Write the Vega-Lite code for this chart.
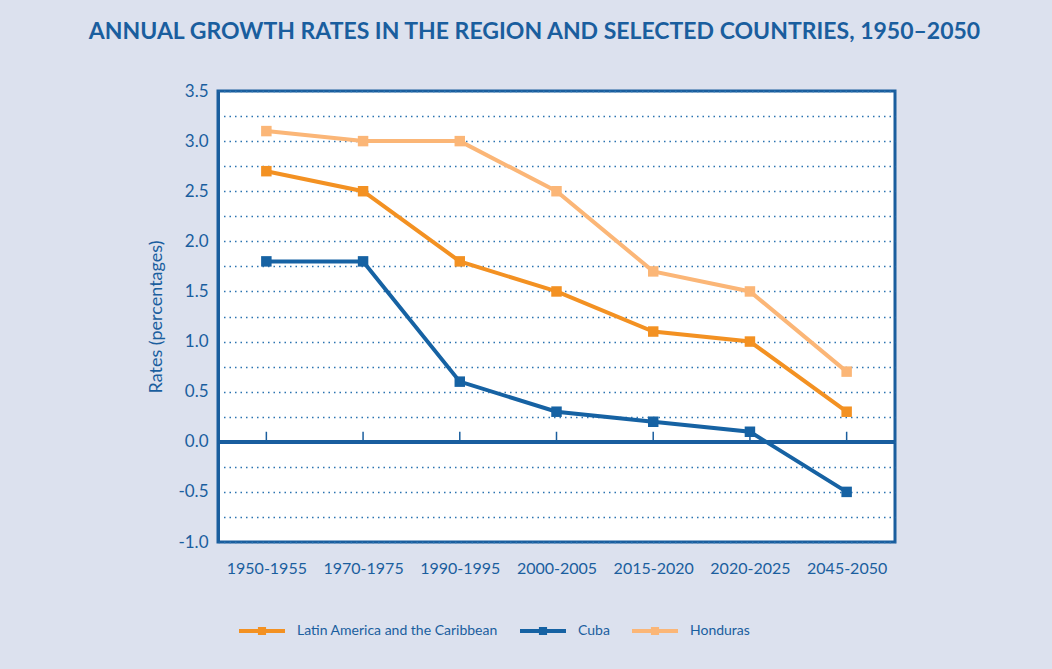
{
  "$schema": "https://vega.github.io/schema/vega-lite/v6.json",
  "autosize": "none",
  "width": 677,
  "height": 451,
  "padding": {"left": 218, "top": 91, "right": 157, "bottom": 127},
  "background": "#dce1ee",
  "title": {
    "text": "ANNUAL GROWTH RATES IN THE REGION AND SELECTED COUNTRIES, 1950–2050",
    "font": "Lato",
    "fontSize": 23,
    "fontWeight": "bold",
    "color": "#1a5e9e",
    "anchor": "middle",
    "dx": -22,
    "offset": 38
  },
  "config": {
    "view": {"stroke": "#1a5e9e", "strokeWidth": 3, "fill": "white"},
    "font": "Lato"
  },
  "data": {
    "values": [
      {"period": "1950-1955", "series": "Latin America and the Caribbean", "rate": 2.7},
      {"period": "1970-1975", "series": "Latin America and the Caribbean", "rate": 2.5},
      {"period": "1990-1995", "series": "Latin America and the Caribbean", "rate": 1.8},
      {"period": "2000-2005", "series": "Latin America and the Caribbean", "rate": 1.5},
      {"period": "2015-2020", "series": "Latin America and the Caribbean", "rate": 1.1},
      {"period": "2020-2025", "series": "Latin America and the Caribbean", "rate": 1.0},
      {"period": "2045-2050", "series": "Latin America and the Caribbean", "rate": 0.3},
      {"period": "1950-1955", "series": "Cuba", "rate": 1.8},
      {"period": "1970-1975", "series": "Cuba", "rate": 1.8},
      {"period": "1990-1995", "series": "Cuba", "rate": 0.6},
      {"period": "2000-2005", "series": "Cuba", "rate": 0.3},
      {"period": "2015-2020", "series": "Cuba", "rate": 0.2},
      {"period": "2020-2025", "series": "Cuba", "rate": 0.1},
      {"period": "2045-2050", "series": "Cuba", "rate": -0.5},
      {"period": "1950-1955", "series": "Honduras", "rate": 3.1},
      {"period": "1970-1975", "series": "Honduras", "rate": 3.0},
      {"period": "1990-1995", "series": "Honduras", "rate": 3.0},
      {"period": "2000-2005", "series": "Honduras", "rate": 2.5},
      {"period": "2015-2020", "series": "Honduras", "rate": 1.7},
      {"period": "2020-2025", "series": "Honduras", "rate": 1.5},
      {"period": "2045-2050", "series": "Honduras", "rate": 0.7}
    ]
  },
  "encoding": {
    "x": {
      "field": "period",
      "type": "ordinal",
      "scale": {"type": "point", "padding": 0.5},
      "axis": {
        "title": null,
        "labelAngle": 0,
        "labelFontSize": 16,
        "labelColor": "#1a5e9e",
        "labelPadding": 18,
        "ticks": false,
        "domain": false,
        "grid": false
      }
    }
  },
  "layer": [
    {
      "mark": {"type": "rule", "color": "#1a5e9e", "strokeWidth": 3},
      "encoding": {
        "x": null,
        "y": {
          "datum": 0,
          "type": "quantitative",
          "scale": {"domain": [-1, 3.5], "nice": false, "zero": false},
          "axis": {
            "title": "Rates (percentages)",
            "titleFontSize": 18,
            "titleFontWeight": "normal",
            "titleColor": "#1a5e9e",
            "titlePadding": 12,
            "values": [-1, -0.75, -0.5, -0.25, 0, 0.25, 0.5, 0.75, 1, 1.25, 1.5, 1.75, 2, 2.25, 2.5, 2.75, 3, 3.25, 3.5],
            "labelExpr": "abs(datum.value * 2 - round(datum.value * 2)) < 0.001 ? replace(format(datum.value, '.1f'), '−', '-') : ''",
            "labelFontSize": 17,
            "labelColor": "#1a5e9e",
            "labelPadding": 10,
            "labelOverlap": false,
            "ticks": false,
            "domainColor": "#1a5e9e",
            "domainWidth": 3,
            "grid": true,
            "gridColor": "#2b73b0",
            "gridDash": [1.5, 4],
            "gridWidth": 1.3
          }
        }
      }
    },
    {
      "transform": [{"filter": "datum.series === 'Cuba'"}],
      "mark": {"type": "rule", "color": "#1a5e9e", "strokeWidth": 1.5},
      "encoding": {
        "y": {
          "datum": 0,
          "type": "quantitative",
          "scale": {"domain": [-1, 3.5], "nice": false, "zero": false},
          "axis": {
            "title": "Rates (percentages)",
            "titleFontSize": 18,
            "titleFontWeight": "normal",
            "titleColor": "#1a5e9e",
            "titlePadding": 12,
            "values": [-1, -0.75, -0.5, -0.25, 0, 0.25, 0.5, 0.75, 1, 1.25, 1.5, 1.75, 2, 2.25, 2.5, 2.75, 3, 3.25, 3.5],
            "labelExpr": "abs(datum.value * 2 - round(datum.value * 2)) < 0.001 ? replace(format(datum.value, '.1f'), '−', '-') : ''",
            "labelFontSize": 17,
            "labelColor": "#1a5e9e",
            "labelPadding": 10,
            "labelOverlap": false,
            "ticks": false,
            "domainColor": "#1a5e9e",
            "domainWidth": 3,
            "grid": true,
            "gridColor": "#2b73b0",
            "gridDash": [1.5, 4],
            "gridWidth": 1.3
          }
        },
        "y2": {"datum": 0.1}
      }
    },
    {
      "mark": {"type": "line", "strokeWidth": 4, "point": {"shape": "square", "size": 110, "filled": true, "opacity": 1}},
      "encoding": {
        "y": {
          "field": "rate",
          "type": "quantitative",
          "scale": {"domain": [-1, 3.5], "nice": false, "zero": false},
          "axis": {
            "title": "Rates (percentages)",
            "titleFontSize": 18,
            "titleFontWeight": "normal",
            "titleColor": "#1a5e9e",
            "titlePadding": 12,
            "values": [-1, -0.75, -0.5, -0.25, 0, 0.25, 0.5, 0.75, 1, 1.25, 1.5, 1.75, 2, 2.25, 2.5, 2.75, 3, 3.25, 3.5],
            "labelExpr": "abs(datum.value * 2 - round(datum.value * 2)) < 0.001 ? replace(format(datum.value, '.1f'), '−', '-') : ''",
            "labelFontSize": 17,
            "labelColor": "#1a5e9e",
            "labelPadding": 10,
            "labelOverlap": false,
            "ticks": false,
            "domainColor": "#1a5e9e",
            "domainWidth": 3,
            "grid": true,
            "gridColor": "#2b73b0",
            "gridDash": [1.5, 4],
            "gridWidth": 1.3
          }
        },
        "color": {
          "field": "series",
          "type": "nominal",
          "scale": {
            "domain": ["Latin America and the Caribbean", "Cuba", "Honduras"],
            "range": ["#f39122", "#1662a3", "#fbb677"]
          },
          "legend": {
            "title": null,
            "orient": "none",
            "direction": "horizontal",
            "gridAlign": "none",
            "legendX": 19,
            "legendY": 515,
            "labelFont": "Lato",
            "labelFontSize": 14,
            "labelColor": "#1a5e9e",
            "labelLimit": 0,
            "labelOffset": 10,
            "columnPadding": 14,
            "symbolType": "M-1,0H1M-0.09,-0.09H0.09V0.09H-0.09Z",
            "symbolSize": 2116,
            "symbolStrokeWidth": 4,
            "symbolOpacity": 1
          }
        }
      }
    }
  ]
}
